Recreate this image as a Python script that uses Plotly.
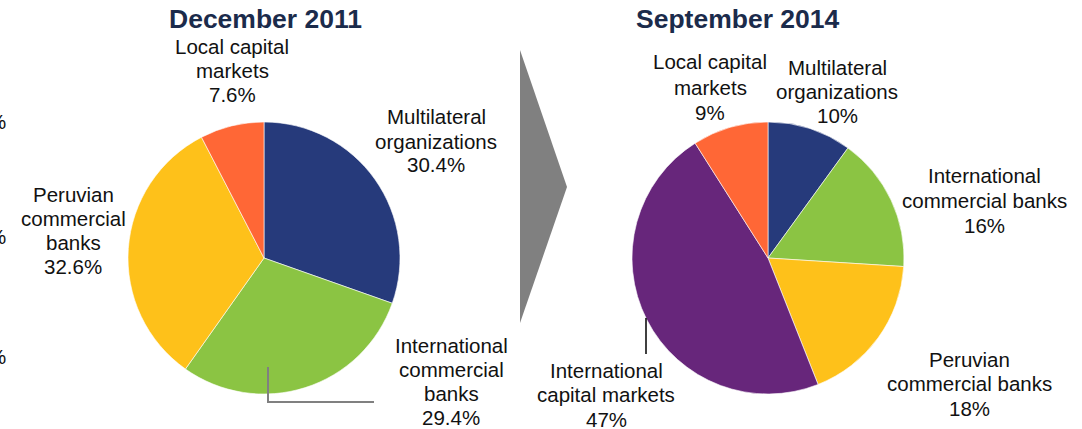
import plotly.graph_objects as go

# ---------------- data ----------------
titles = ["December 2011", "September 2014"]

labels_2011 = ["Multilateral organizations", "International commercial banks",
               "Peruvian commercial banks", "Local capital markets"]
values_2011 = [30.4, 29.4, 32.6, 7.6]

labels_2014 = ["Multilateral organizations", "International commercial banks",
               "Peruvian commercial banks", "International capital markets",
               "Local capital markets"]
values_2014 = [10, 16, 18, 47, 9]

# ---------------- styling ----------------
W, H = 1082, 429
colors = {
    "Multilateral organizations": "#263A7B",
    "International commercial banks": "#8BC443",
    "Peruvian commercial banks": "#FEC11A",
    "Local capital markets": "#FF6736",
    "International capital markets": "#67267B",
}
FONT = "Liberation Sans, Arial, sans-serif"
LSIZE = 20.5


def fx(px):
    return px / W


def fy(py):
    return 1 - py / H


# label text line breaks and placement (pixel centre x, first-line y, spacing)
breaks_2011 = {
    "Multilateral organizations": ["Multilateral", "organizations"],
    "International commercial banks": ["International", "commercial", "banks"],
    "Peruvian commercial banks": ["Peruvian", "commercial", "banks"],
    "Local capital markets": ["Local capital", "markets"],
}
place_2011 = {
    "Multilateral organizations": (436, 117, 24),
    "International commercial banks": (451, 345, 24.3),
    "Peruvian commercial banks": (73, 194, 24),
    "Local capital markets": (232, 47, 23.5),
}
breaks_2014 = {
    "Multilateral organizations": ["Multilateral", "organizations"],
    "International commercial banks": ["International", "commercial banks"],
    "Peruvian commercial banks": ["Peruvian", "commercial banks"],
    "International capital markets": ["International", "capital markets"],
    "Local capital markets": ["Local capital", "markets"],
}
place_2014 = {
    "Multilateral organizations": (837, 67, 24),
    "International commercial banks": (984, 175, 25),
    "Peruvian commercial banks": (969, 359, 24.5),
    "International capital markets": (606, 370, 24.5),
    "Local capital markets": (710, 62, 25),
}

fig = go.Figure()

pies = [
    (labels_2011, values_2011, (128, 400)),
    (labels_2014, values_2014, (632, 904)),
]
for labs, vals, (x0, x1) in pies:
    fig.add_trace(go.Pie(
        labels=labs, values=vals, sort=False, direction="clockwise", rotation=0,
        marker=dict(colors=[colors[l] for l in labs], line=dict(color="white", width=0.6)),
        textinfo="none", hoverinfo="label+percent", showlegend=False,
        domain=dict(x=[fx(x0), fx(x1)], y=[fy(394), fy(122)]),
    ))

ann = []
# titles
for t, cx in zip(titles, [265, 738]):
    ann.append(dict(text=f"<b>{t}</b>", x=fx(cx), y=fy(18.5), xref="paper", yref="paper",
                    xanchor="center", yanchor="middle", showarrow=False,
                    font=dict(family=FONT, size=26.5, color="#1B2B4B")))


def add_labels(labs, vals, breaks, place, fmt):
    for l, v in zip(labs, vals):
        lines = breaks[l] + [fmt(v)]
        cx, y0, dy = place[l]
        for i, line in enumerate(lines):
            ann.append(dict(text=line, x=fx(cx), y=fy(y0 + i * dy), xref="paper", yref="paper",
                            xanchor="center", yanchor="middle", showarrow=False,
                            font=dict(family=FONT, size=LSIZE, color="#111111")))


add_labels(labels_2011, values_2011, breaks_2011, place_2011, lambda v: f"{v:.1f}%")
add_labels(labels_2014, values_2014, breaks_2014, place_2014, lambda v: f"{v:.0f}%")

# clipped labels at the far left edge
for py in [122, 236, 356]:
    ann.append(dict(text="%", x=fx(8), y=fy(py), xref="paper", yref="paper",
                    xanchor="right", yanchor="middle", showarrow=False,
                    font=dict(family=FONT, size=LSIZE, color="#111111")))

shapes = [
    # grey arrow between pies
    dict(type="path", xref="paper", yref="paper",
         path=f"M {fx(520)},{fy(50)} L {fx(567)},{fy(187)} L {fx(520)},{fy(323)} Z",
         fillcolor="#808080", line=dict(width=0)),
    # leader line for left pie label
    dict(type="path", xref="paper", yref="paper",
         path=f"M {fx(268)},{fy(367)} L {fx(268)},{fy(402)} L {fx(374)},{fy(402)}",
         line=dict(color="#808080", width=2)),
    # leader line for right pie label
    dict(type="line", xref="paper", yref="paper",
         x0=fx(646), x1=fx(646), y0=fy(318), y1=fy(354),
         line=dict(color="#000000", width=1.5)),
]

fig.update_layout(
    width=W, height=H, margin=dict(l=0, r=0, t=0, b=0),
    paper_bgcolor="white", plot_bgcolor="white",
    annotations=ann, shapes=shapes,
)

fig.write_html(
    "out.html",
    config={"displayModeBar": False},
    post_script="document.body.style.margin='0';document.body.style.overflow='hidden';",
)
